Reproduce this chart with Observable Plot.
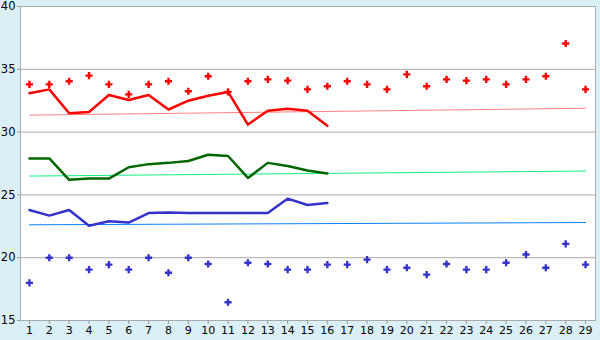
<!DOCTYPE html>
<html><head><meta charset="utf-8">
<script src="https://cdn.jsdelivr.net/npm/d3@7"></script>
<script src="https://cdn.jsdelivr.net/npm/@observablehq/plot@0.6"></script>
<style>body{margin:0;background:#daf0f6;}</style>
</head><body><div id="chart"></div>
<script>
const days = [1,2,3,4,5,6,7,8,9,10,11,12,13,14,15,16,17,18,19,20,21,22,23,24,25,26,27,28,29];
const lineDays = [1,2,3,4,5,6,7,8,9,10,11,12,13,14,15,16];
const yTicks = [15,20,25,30,35,40];

const redPoints = [33.8,33.8,34.05,34.5,33.8,33.0,33.8,34.05,33.25,34.45,33.2,34.05,34.2,34.1,33.4,33.65,34.05,33.8,33.4,34.6,33.65,34.2,34.1,34.2,33.8,34.2,34.45,37.05,33.4];
const redLine = [33.1,33.4,31.5,31.6,32.95,32.55,32.95,31.8,32.5,32.9,33.2,30.6,31.7,31.85,31.7,30.5];
const greenLine = [27.9,27.9,26.2,26.3,26.3,27.2,27.45,27.55,27.7,28.2,28.1,26.35,27.55,27.3,26.95,26.7];
const blueLine = [23.8,23.35,23.8,22.55,22.9,22.8,23.55,23.6,23.55,23.55,23.55,23.55,23.55,24.7,24.2,24.35];
const bluePoints = [18.0,20.0,20.0,19.05,19.45,19.05,20.0,18.8,20.0,19.5,16.45,19.6,19.5,19.05,19.05,19.45,19.45,19.85,19.05,19.2,18.65,19.5,19.05,19.05,19.6,20.25,19.2,21.1,19.45];

const trendDays = [1,29];
const redTrend = [31.35,31.9];
const greenTrend = [26.5,26.9];
const blueTrend = [22.62,22.8];

const pts = (xs, ys) => xs.map((d,i)=>({day:d, v:ys[i]}));

const chart = Plot.plot({
  width:600, height:340,
  marginLeft:20, marginRight:5, marginTop:6, marginBottom:20,
  x:{domain:[0.55,29.5]},
  y:{domain:[15,40]},
  style:{background:"#daf0f6", fontFamily:"DejaVu Sans, Verdana, sans-serif", color:"black"},
  marks:[
    Plot.frame({fill:"white", stroke:null}),
    Plot.ruleY(yTicks, {stroke:"#aaa", strokeWidth:1}),
    Plot.frame({stroke:"#aaa"}),
    Plot.axisY({ticks:yTicks, tickSize:3, tickPadding:2, fontSize:11.5, stroke:"#999", fill:"black", label:null}),
    Plot.axisX({ticks:days, tickSize:4, tickPadding:2, fontSize:11, stroke:"#999", fill:"black", label:null}),
    Plot.line(pts(trendDays, redTrend), {x:"day", y:"v", stroke:"#ff7f7f", strokeWidth:1}),
    Plot.line(pts(trendDays, greenTrend), {x:"day", y:"v", stroke:"#11f080", strokeWidth:1}),
    Plot.line(pts(trendDays, blueTrend), {x:"day", y:"v", stroke:"#0a80ff", strokeWidth:1}),
    Plot.line(pts(lineDays, redLine), {x:"day", y:"v", stroke:"#ff0000", strokeWidth:2.5}),
    Plot.line(pts(lineDays, greenLine), {x:"day", y:"v", stroke:"#006600", strokeWidth:2.5}),
    Plot.line(pts(lineDays, blueLine), {x:"day", y:"v", stroke:"#3333cc", strokeWidth:2.5}),
    Plot.dot(pts(days, redPoints), {x:"day", y:"v", symbol:"cross", r:3, fill:"#ff0000", stroke:null}),
    Plot.dot(pts(days, bluePoints), {x:"day", y:"v", symbol:"cross", r:3, fill:"#3333cc", stroke:null})
  ]
});
document.getElementById("chart").appendChild(chart);
</script>
</body></html>
